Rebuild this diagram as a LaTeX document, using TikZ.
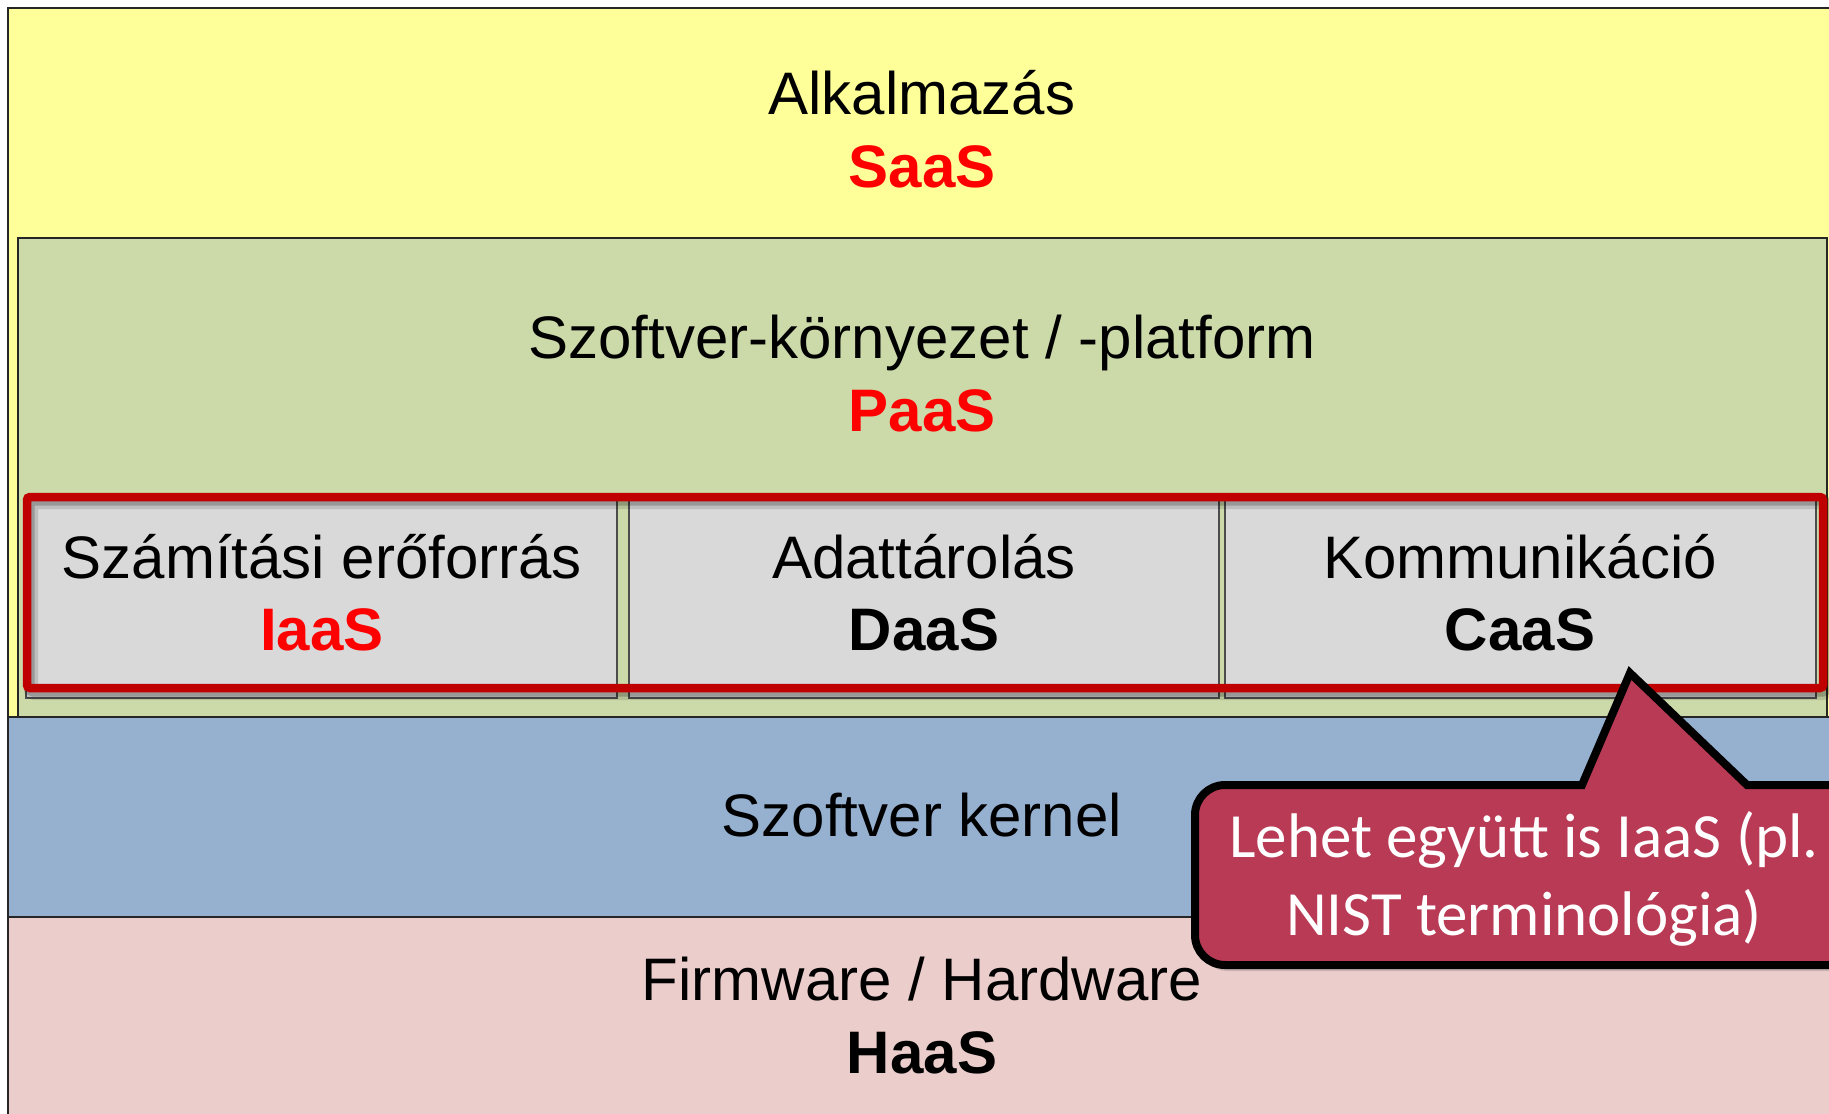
\documentclass[tikz,border=0pt]{standalone}
\usepackage{fontspec}
\setmainfont{Liberation Sans}
\newfontfamily\calloutfont{Carlito}
\usetikzlibrary{shadows}
\definecolor{layerYellow}{RGB}{255,255,153}
\definecolor{layerGreen}{RGB}{204,218,170}
\definecolor{layerBlue}{RGB}{150,176,208}
\definecolor{layerPink}{RGB}{235,205,204}
\definecolor{boxGray}{RGB}{217,217,217}
\definecolor{frameRed}{RGB}{192,0,0}
\definecolor{calloutRed}{RGB}{185,58,85}
\definecolor{textRed}{RGB}{255,0,0}
\begin{document}
\begin{tikzpicture}[x=1pt,y=-1pt,
  layerbox/.style={draw=black!85,line width=1.5pt},
  svcbox/.style={fill=boxGray,draw=black!70,line width=1.2pt},
  lbl/.style={inner sep=0pt,anchor=base,font=\fontsize{60}{72}\selectfont},
  acr/.style={inner sep=0pt,anchor=base,font=\fontsize{60}{72}\selectfont\bfseries},
  calloutshape/.style={fill=calloutRed,draw=black,line width=8pt,line join=miter,
    drop shadow={shadow xshift=3pt,shadow yshift=-6pt,opacity=0.35}},
  callouttext/.style={inner sep=0pt,anchor=base,text=white,
    font=\calloutfont\fontsize{63}{76}\selectfont}]
\useasboundingbox (0,0) rectangle (1829,1114);
\clip (0,0) rectangle (1829,1114);
\fill[white] (0,0) rectangle (1829,1114);

% layers
\path[layerbox,fill=layerYellow] (8,8) rectangle (1845,717);
\path[layerbox,fill=layerGreen] (18,238) rectangle (1827,717);
\path[layerbox,fill=layerBlue] (8,717) rectangle (1845,917);
\path[layerbox,fill=layerPink] (8,917) rectangle (1845,1130);

% service boxes
\path[svcbox] (26,499) rectangle (617,698);
\path[svcbox] (629,499) rectangle (1219,698);
\path[svcbox] (1225,499) rectangle (1816,698);

% red frame with soft shadow
\draw[black,opacity=0.12,line width=14pt,rounded corners=3pt] (31,502) rectangle (1826,693);
\draw[black,opacity=0.2,line width=9pt,rounded corners=3pt] (30,501) rectangle (1826,692);
\draw[frameRed,line width=8.5pt,rounded corners=3pt] (27,497) rectangle (1823,688);

% texts
\node[lbl] (app) at (922,114) {Alkalmazás};
\node[acr,text=textRed] (saas) at (922,187) {SaaS};
\node[lbl] (plat) at (922,358) {Szoftver-környezet / -platform};
\node[acr,text=textRed] (paas) at (922,431) {PaaS};
\node[lbl] (comp) at (322,578) {Számítási erőforrás};
\node[acr,text=textRed] (iaas) at (322,650) {IaaS};
\node[lbl] (stor) at (924,578) {Adattárolás};
\node[acr] (daas) at (924,650) {DaaS};
\node[lbl] (comm) at (1520,578) {Kommunikáció};
\node[acr] (caas) at (1520,650) {CaaS};
\node[lbl] (kern) at (922,836) {Szoftver kernel};
\node[lbl] (fw) at (922,1000) {Firmware / Hardware};
\node[acr] (haas) at (922,1073) {HaaS};

% callout
\path[calloutshape] (1300,785) [sharp corners] -- (1582,785) -- (1630,673) -- (1747,785) -- (1800,785)
  [rounded corners=30pt] -| (1880,965) -| (1195,785) -- cycle;
\node[callouttext] (note1) at (1524,857) {Lehet együtt is IaaS (pl.};
\node[callouttext] (note2) at (1524,935) {NIST terminológia)};
\end{tikzpicture}
\end{document}
